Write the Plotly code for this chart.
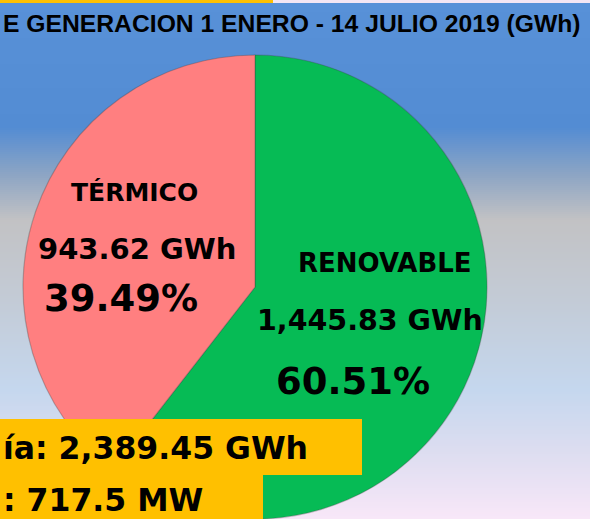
import plotly.graph_objects as go

# ---- data ----
categories = ["TÉRMICO", "RENOVABLE"]
energy_gwh = [943.62, 1445.83]
power_mw = 717.5
title_text = "E GENERACION 1 ENERO - 14 JULIO 2019 (GWh)"

total_gwh = sum(energy_gwh)
shares = [v / total_gwh * 100 for v in energy_gwh]

W, H = 590, 519
colors = ["#FF7F80", "#06BB55"]

def px(x):
    return x / W

def py(y):
    return 1 - y / H

fig = go.Figure()

# pie: centre ~ (255, 287), radius ~232; TÉRMICO on the left of 12 o'clock
cx, cy, r = 255, 287, 232
fig.add_trace(go.Pie(
    labels=categories[::-1],
    values=energy_gwh[::-1],
    sort=False,
    direction="clockwise",
    rotation=0,
    marker=dict(colors=colors[::-1], line=dict(color="rgba(60,60,60,0.3)", width=1.2)),
    textinfo="none",
    textposition="none",
    hoverinfo="label+value+percent",
    showlegend=False,
    domain=dict(x=[px(cx - 245), px(cx + 245)], y=[0, py(cy - r)]),
))

# ---- background gradient (style) ----
stops = [
    (0, (88, 145, 216)),
    (127, (83, 140, 211)),
    (175, (141, 165, 196)),
    (220, (194, 194, 196)),
    (300, (195, 203, 214)),
    (390, (197, 215, 238)),
    (450, (220, 221, 240)),
    (519, (248, 231, 248)),
]

def grad(y):
    for (y0, c0), (y1, c1) in zip(stops[:-1], stops[1:]):
        if y0 <= y <= y1:
            t = (y - y0) / (y1 - y0) if y1 > y0 else 0
            return "rgb(%d,%d,%d)" % tuple(round(a + (b - a) * t) for a, b in zip(c0, c1))
    return "rgb(%d,%d,%d)" % stops[-1][1]

shapes = []
step = 2
for y in range(0, H, step):
    shapes.append(dict(type="rect", xref="paper", yref="paper",
                       x0=0, x1=1, y0=py(y + step + 0.5), y1=py(y),
                       fillcolor=grad(y + step / 2), line=dict(width=0), layer="below"))
# top strip
shapes.append(dict(type="rect", xref="paper", yref="paper", x0=0, x1=1, y0=py(3), y1=1,
                   fillcolor="#F4E6F4", line=dict(width=0), layer="below"))
shapes.append(dict(type="rect", xref="paper", yref="paper", x0=0, x1=px(273), y0=py(3), y1=1,
                   fillcolor="#FFC000", line=dict(width=0), layer="below"))
# yellow info boxes (above pie)
shapes.append(dict(type="rect", xref="paper", yref="paper", x0=0, x1=px(362), y0=py(475), y1=py(419),
                   fillcolor="#FFC000", line=dict(width=0), layer="above"))
shapes.append(dict(type="rect", xref="paper", yref="paper", x0=0, x1=px(263), y0=0, y1=py(475),
                   fillcolor="#FFC000", line=dict(width=0), layer="above"))

def ann(text, x, y, size, xanchor="center", family="DejaVu Sans"):
    return dict(text="<b>%s</b>" % text, x=px(x), y=py(y), xref="paper", yref="paper",
                xanchor=xanchor, yanchor="middle", showarrow=False,
                font=dict(family=family, size=size, color="black"))

annotations = [
    ann(title_text, 1, 24, 24.7, xanchor="left", family="Liberation Sans, Arial"),
    ann(categories[0], 134, 192, 25),
    ann("{:,.2f} GWh".format(energy_gwh[0]), 137, 249, 29),
    ann("{:.2f}%".format(shares[0]), 121, 298, 37),
    ann(categories[1], 385, 263, 26),
    ann("{:,.2f} GWh".format(energy_gwh[1]), 370, 320, 28.5),
    ann("{:.2f}%".format(shares[1]), 353, 381, 37),
    ann("ía: {:,.2f} GWh".format(total_gwh), 1, 448, 31.5, xanchor="left"),
    ann(": {} MW".format(power_mw), 1, 500, 31.5, xanchor="left"),
]

fig.update_layout(
    width=W, height=H, autosize=False,
    margin=dict(l=0, r=0, t=0, b=0),
    paper_bgcolor="#C3CBD6",
    plot_bgcolor="rgba(0,0,0,0)",
    shapes=shapes,
    annotations=annotations,
)

fig.write_html("out.html",
               config={"displayModeBar": False},
               post_script="document.body.style.margin='0';document.body.style.overflow='hidden';")
